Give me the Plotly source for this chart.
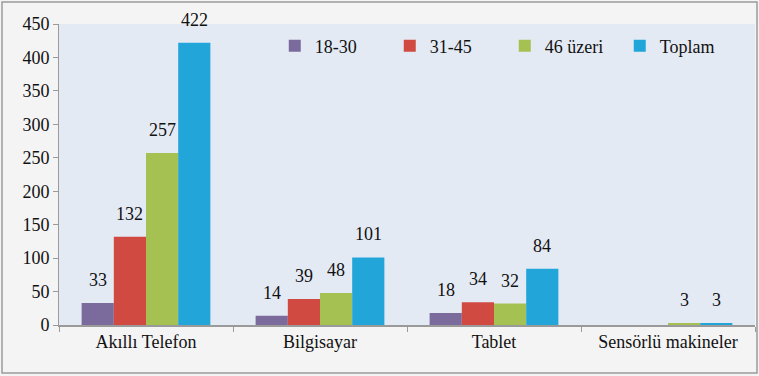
import plotly.graph_objects as go

# Device ownership by age group
categories = ["Akıllı Telefon", "Bilgisayar", "Tablet", "Sensörlü makineler"]
series_names = ["18-30", "31-45", "46 üzeri", "Toplam"]
values_18_30 = [33, 14, 18, 0]
values_31_45 = [132, 39, 34, 0]
values_46_plus = [257, 48, 32, 3]
values_total = [422, 101, 84, 3]
y_ticks = [0, 50, 100, 150, 200, 250, 300, 350, 400, 450]

series_values = [values_18_30, values_31_45, values_46_plus, values_total]
colors = ["#7b6a9c", "#d04a42", "#a5c152", "#22a6da"]

W, H = 759, 376
margin = dict(l=59, r=4, t=24, b=51)
bargap = 0.26
SERIF = "Liberation Serif"
INK = "#111111"

fig = go.Figure()
for name, vals, col in zip(series_names, series_values, colors):
    fig.add_trace(go.Bar(
        name=name, x=categories, y=vals,
        marker=dict(color=col, line=dict(width=0)),
    ))

# Value labels above each bar, shifted to the bar's slot in its group
plot_w = W - margin["l"] - margin["r"]
plot_h = H - margin["t"] - margin["b"]
slot_w = plot_w / len(categories) * (1 - bargap) / len(series_names)
annotations = []
for i, vals in enumerate(series_values):
    shift = (i - (len(series_names) - 1) / 2) * slot_w
    for cat, v in zip(categories, vals):
        if v <= 0:
            continue
        annotations.append(dict(
            x=cat, y=v, xref="x", yref="y", text=str(v), showarrow=False,
            xshift=shift, yshift=11, yanchor="bottom",
            font=dict(family=SERIF, size=18, color=INK),
        ))

fig.update_layout(
    template="none",
    width=W, height=H, margin=margin,
    barmode="group", bargap=bargap, bargroupgap=0,
    paper_bgcolor="#f4f4f4", plot_bgcolor="#e4eaf4",
    font=dict(family=SERIF, size=18, color=INK),
    legend=dict(
        orientation="h", x=0.31, y=0.927, xanchor="left", yanchor="middle",
        bgcolor="rgba(0,0,0,0)", font=dict(family=SERIF, size=18, color=INK),
        itemwidth=30, traceorder="normal", entrywidth=70,
    ),
    annotations=annotations,
    shapes=[dict(
        type="rect", xref="paper", yref="paper",
        x0=-(margin["l"] - 2) / plot_w, x1=1 + (margin["r"] - 2) / plot_w,
        y0=-(margin["b"] - 3) / plot_h, y1=1 + (margin["t"] - 2) / plot_h,
        line=dict(color="#9a9a9a", width=1.5), fillcolor="rgba(0,0,0,0)",
        layer="below",
    )],
)
fig.update_yaxes(
    range=[0, 450], tickvals=y_ticks, showgrid=False, zeroline=False,
    showline=True, linecolor="#9a9a9a", linewidth=1,
    ticks="outside", ticklen=5, tickcolor="#9a9a9a",
    tickfont=dict(family=SERIF, size=18, color=INK),
)
fig.update_xaxes(
    showgrid=False, zeroline=False, showline=True, linecolor="#9a9a9a", linewidth=1.5,
    ticks="outside", ticklen=5, tickcolor="#9a9a9a", tickson="boundaries",
    tickfont=dict(family=SERIF, size=18, color=INK),
)

fig.write_html("out.html")
